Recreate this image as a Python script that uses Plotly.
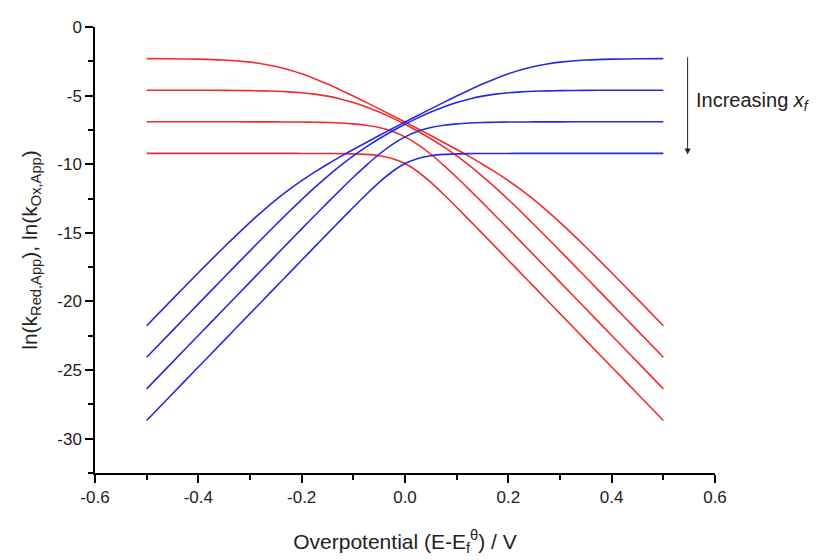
import plotly.graph_objects as go

eta = [-0.5, -0.45, -0.4, -0.35, -0.3, -0.275, -0.25, -0.225, -0.2, -0.175, -0.15, -0.125,
       -0.1, -0.075, -0.05, -0.025, 0.0, 0.025, 0.05, 0.075, 0.1, 0.125, 0.15, 0.175,
       0.2, 0.225, 0.25, 0.275, 0.3, 0.35, 0.4, 0.45, 0.5]

red1 = [-2.308, -2.318, -2.343, -2.407, -2.558, -2.691, -2.874, -3.116, -3.415, -3.766, -4.159, -4.584,
        -5.031, -5.493, -5.965, -6.443, -6.928, -7.416, -7.911, -8.412, -8.923, -9.449, -9.997, -10.577,
        -11.199, -11.873, -12.604, -13.394, -14.234, -16.029, -17.911, -19.832, -21.769]
red2 = [-4.606, -4.607, -4.609, -4.616, -4.634, -4.652, -4.680, -4.724, -4.791, -4.893, -5.039, -5.240,
        -5.501, -5.822, -6.199, -6.624, -7.090, -7.597, -8.145, -8.741, -9.393, -10.105, -10.877, -11.704,
        -12.575, -13.481, -14.410, -15.355, -16.310, -18.238, -20.177, -22.121, -24.066]
red3 = [-6.908, -6.908, -6.908, -6.909, -6.911, -6.913, -6.916, -6.920, -6.928, -6.942, -6.963, -6.999,
        -7.059, -7.160, -7.327, -7.597, -8.006, -8.570, -9.273, -10.079, -10.951, -11.864, -12.801, -13.753,
        -14.712, -15.677, -16.646, -17.616, -18.587, -20.531, -22.476, -24.422, -26.368]
red4 = [-9.210, -9.210, -9.210, -9.210, -9.211, -9.211, -9.211, -9.212, -9.213, -9.215, -9.219, -9.227,
        -9.244, -9.285, -9.376, -9.575, -9.952, -10.548, -11.322, -12.204, -13.136, -14.092, -15.057, -16.026,
        -16.997, -17.969, -18.941, -19.914, -20.887, -22.833, -24.778, -26.724, -28.670]

blue1 = [-21.769, -19.832, -17.911, -16.029, -14.234, -13.394, -12.604, -11.873, -11.199, -10.577, -9.997, -9.449,
         -8.923, -8.412, -7.911, -7.416, -6.928, -6.443, -5.965, -5.493, -5.031, -4.584, -4.159, -3.766,
         -3.415, -3.116, -2.874, -2.691, -2.558, -2.407, -2.343, -2.318, -2.308]
blue2 = [-24.066, -22.121, -20.177, -18.238, -16.310, -15.355, -14.410, -13.481, -12.575, -11.704, -10.877, -10.105,
         -9.393, -8.741, -8.145, -7.597, -7.090, -6.624, -6.199, -5.822, -5.501, -5.240, -5.039, -4.893,
         -4.791, -4.724, -4.680, -4.652, -4.634, -4.616, -4.609, -4.607, -4.606]
blue3 = [-26.368, -24.422, -22.476, -20.531, -18.587, -17.616, -16.646, -15.677, -14.712, -13.753, -12.801, -11.864,
         -10.951, -10.079, -9.273, -8.570, -8.006, -7.597, -7.327, -7.160, -7.059, -6.999, -6.963, -6.942,
         -6.928, -6.920, -6.916, -6.913, -6.911, -6.909, -6.908, -6.908, -6.908]
blue4 = [-28.670, -26.724, -24.778, -22.833, -20.887, -19.914, -18.941, -17.969, -16.997, -16.026, -15.057, -14.092,
         -13.136, -12.204, -11.322, -10.548, -9.952, -9.575, -9.376, -9.285, -9.244, -9.227, -9.219, -9.215,
         -9.213, -9.212, -9.211, -9.211, -9.211, -9.210, -9.210, -9.210, -9.210]

x_ticks = [-0.6, -0.4, -0.2, 0.0, 0.2, 0.4, 0.6]
x_ticklabels = ["-0.6", "-0.4", "-0.2", "0.0", "0.2", "0.4", "0.6"]
y_ticks = [0, -5, -10, -15, -20, -25, -30]
y_ticklabels = ["0", "-5", "-10", "-15", "-20", "-25", "-30"]

RED = "rgb(240,45,45)"
BLUE = "rgb(40,40,225)"
FONT = "Liberation Sans, Arial, sans-serif"

fig = go.Figure()
for ys in (red1, red2, red3, red4):
    fig.add_trace(go.Scatter(x=eta, y=ys, mode="lines",
                             line=dict(color=RED, width=1.6, shape="spline", smoothing=0.8),
                             showlegend=False, hoverinfo="skip"))
for ys in (blue1, blue2, blue3, blue4):
    fig.add_trace(go.Scatter(x=eta, y=ys, mode="lines",
                             line=dict(color=BLUE, width=1.6, shape="spline", smoothing=0.8),
                             showlegend=False, hoverinfo="skip"))

axis_common = dict(showline=True, linecolor="black", linewidth=1.5, ticks="outside",
                   ticklen=8, tickwidth=1.5, tickcolor="black", showgrid=False, zeroline=False,
                   tickfont=dict(family=FONT, size=17, color="#222"), mirror=False)

fig.update_xaxes(range=[-0.6, 0.6], tickvals=x_ticks, ticktext=x_ticklabels,
                 minor=dict(tickvals=[-0.5, -0.3, -0.1, 0.1, 0.3, 0.5], ticklen=5, tickwidth=1.5,
                            tickcolor="black", ticks="outside"),
                 title=dict(text="Overpotential (E-E<sub>f</sub><sup>θ</sup>) / V",
                            font=dict(family=FONT, size=21, color="#222"), standoff=28),
                 **axis_common)
fig.update_yaxes(range=[-32.5, 0], tickvals=y_ticks, ticktext=y_ticklabels,
                 minor=dict(tickvals=[-2.5, -7.5, -12.5, -17.5, -22.5, -27.5, -32.5], ticklen=5,
                            tickwidth=1.5, tickcolor="black", ticks="outside"),
                 title=dict(text="ln(k<sub>Red,App</sub>), ln(k<sub>Ox,App</sub>)",
                            font=dict(family=FONT, size=21, color="#222"), standoff=14),
                 **axis_common)

fig.add_annotation(x=0.547, y=-9.3, ax=0.547, ay=-2.1, xref="x", yref="y", axref="x", ayref="y",
                   showarrow=True, arrowhead=2, arrowsize=1.2, arrowwidth=1, arrowcolor="#222", text="")
fig.add_annotation(x=0.56, y=-5.4, xref="x", yref="y", showarrow=False, xanchor="left",
                   text="Increasing <i>x</i><sub><i>f</i></sub>",
                   font=dict(family=FONT, size=20, color="#222"))

fig.update_layout(width=827, height=552, margin=dict(l=87, r=120, t=10, b=86),
                  plot_bgcolor="white", paper_bgcolor="white")

fig.write_html("out.html")
